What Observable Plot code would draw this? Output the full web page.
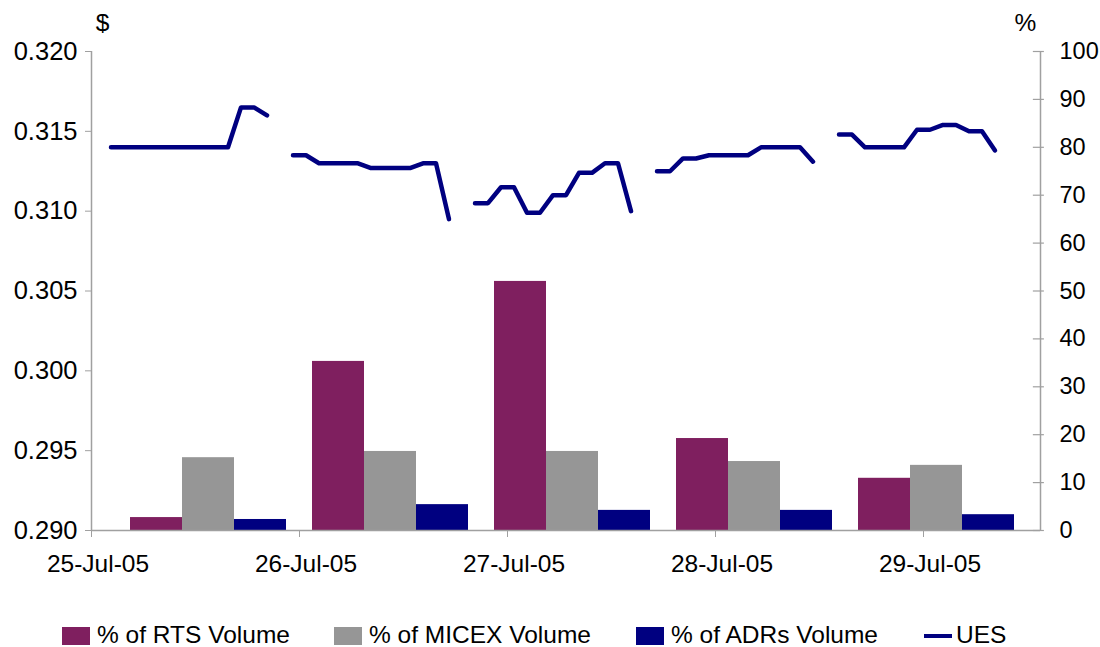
<!DOCTYPE html>
<html>
<head>
<meta charset="utf-8">
<script src="https://cdn.jsdelivr.net/npm/d3@7"></script>
<script src="https://cdn.jsdelivr.net/npm/@observablehq/plot@0.6"></script>
<style>
  html, body { margin: 0; padding: 0; background: #fff; }
  body { font-family: "Liberation Sans", Arial, sans-serif; }
  #wrap { position: relative; width: 1100px; height: 647px; }
  #legend { position: absolute; left: 0; top: 620px; width: 1100px; height: 27px; font-size: 24.5px; color: #000; }
  .sw { position: absolute; top: 7px; width: 28px; height: 18px; }
  .ln { position: absolute; top: 14px; width: 28px; height: 4px; }
  .lt { position: absolute; top: 4px; height: 22px; line-height: 22px; white-space: nowrap; }
</style>
</head>
<body>
<div id="wrap"><div id="chart"></div><div id="legend"></div></div>
<script>
// ---------------- data ----------------
const days = ["25-Jul-05", "26-Jul-05", "27-Jul-05", "28-Jul-05", "29-Jul-05"];
const seriesNames = ["% of RTS Volume", "% of MICEX Volume", "% of ADRs Volume"];
const rtsPct   = [2.7, 35.3, 52.0, 19.2, 10.9];
const micexPct = [15.2, 16.5, 16.5, 14.4, 13.6];
const adrPct   = [2.3, 5.4, 4.2, 4.2, 3.3];
// UES intraday quotes ($), 13 per day
const uesDay1 = [0.3140, 0.3140, 0.3140, 0.3140, 0.3140, 0.3140, 0.3140, 0.3140, 0.3140, 0.3140, 0.3165, 0.3165, 0.3160];
const uesDay2 = [0.3135, 0.3135, 0.3130, 0.3130, 0.3130, 0.3130, 0.3127, 0.3127, 0.3127, 0.3127, 0.3130, 0.3130, 0.3095];
const uesDay3 = [0.3105, 0.3105, 0.3115, 0.3115, 0.3099, 0.3099, 0.3110, 0.3110, 0.3124, 0.3124, 0.3130, 0.3130, 0.3100];
const uesDay4 = [0.3125, 0.3125, 0.3133, 0.3133, 0.3135, 0.3135, 0.3135, 0.3135, 0.3140, 0.3140, 0.3140, 0.3140, 0.3131];
const uesDay5 = [0.3148, 0.3148, 0.3140, 0.3140, 0.3140, 0.3140, 0.3151, 0.3151, 0.3154, 0.3154, 0.3150, 0.3150, 0.3138];
const leftTicks  = [0.290, 0.295, 0.300, 0.305, 0.310, 0.315, 0.320];
const rightTicks = [0, 10, 20, 30, 40, 50, 60, 70, 80, 90, 100];

// ---------------- layout / styles ----------------
const colors = ["#7F1F5F", "#969696", "#000080"];
const lineColor = "#000080";
const axisColor = "#a0a0a0";
const FONT = 24.5;
const slotsPerDay = 14;           // category slots per day on the time axis
const totalSlots = slotsPerDay * days.length + 3;
const yMin = 0.290, yMax = 0.320;
const pctToY = p => yMin + p * (yMax - yMin) / 100;
const yToPct = v => Math.round((v - yMin) * 100 / (yMax - yMin));
const barOffset = 2.5, barW = 4;

const uesAll = [uesDay1, uesDay2, uesDay3, uesDay4, uesDay5];
const ues = uesAll.flatMap((arr, d) => arr.map((v, k) => ({day: days[d], slot: 1 + d * slotsPerDay + k, price: v})));
const pctAll = [rtsPct, micexPct, adrPct];
const bars = pctAll.flatMap((arr, s) => arr.map((p, d) => ({
  series: seriesNames[s],
  x1: barOffset + d * slotsPerDay + s * barW,
  x2: barOffset + d * slotsPerDay + (s + 1) * barW,
  y: pctToY(p)
})));
const xLo = -0.5, xHi = totalSlots - 0.5;
const labelSlots = days.map((_, i) => i * 16);
const sepSlots = days.map((_, i) => i * 16 - 0.5);

const chart = Plot.plot({
  width: 1100,
  height: 620,
  marginLeft: 91,
  marginRight: 60,
  marginTop: 51,
  marginBottom: 90,
  style: {fontFamily: '"Liberation Sans", Arial, sans-serif', fontSize: FONT + "px", background: "#fff", color: "#000"},
  x: {domain: [xLo, xHi], axis: null},
  y: {domain: [yMin, yMax], axis: null},
  color: {domain: seriesNames, range: colors},
  marks: [
    Plot.rect(bars, {x1: "x1", x2: "x2", y1: yMin, y2: "y", fill: "series"}),
    // axis lines
    Plot.ruleY([yMin], {stroke: axisColor, strokeWidth: 1.5}),
    Plot.ruleX([xLo], {stroke: axisColor, strokeWidth: 1.5}),
    Plot.ruleX([xHi], {stroke: axisColor, strokeWidth: 1.5}),
    // left axis
    Plot.axisY({anchor: "left", ticks: leftTicks, tickFormat: d3.format(".3f"), tickSize: 6, tickPadding: 8,
      stroke: axisColor, fill: "#000", fontSize: 25.5, label: null}),
    // right axis (percent)
    Plot.ruleY(rightTicks.map(pctToY), {x1: xHi - 0.55, x2: xHi + 0.3, stroke: axisColor, strokeWidth: 1.2, clip: false}),
    Plot.axisY({anchor: "right", ticks: rightTicks.map(pctToY), tickFormat: d => String(yToPct(d)), tickSize: 0, tickPadding: 19,
      fill: "#000", fontSize: 23.5, label: null, textAnchor: "start"}),
    // bottom axis
    Plot.axisX({ticks: sepSlots, tickSize: 7, tickFormat: () => "", stroke: axisColor, label: null}),
    Plot.axisX({ticks: labelSlots, tickSize: 0, tickPadding: 24, tickFormat: s => days[s / 16], fill: "#000", fontSize: FONT, label: null}),
    // UES line
    Plot.line(ues, {x: "slot", y: "price", z: "day", stroke: lineColor, strokeWidth: 4.5, strokeLinejoin: "round", strokeLinecap: "round"}),
    // unit labels
    Plot.text(["$"], {frameAnchor: "top-left", dx: 11, dy: -28, textAnchor: "middle", lineAnchor: "middle", fontSize: FONT, fill: "#000"}),
    Plot.text(["%"], {frameAnchor: "top-right", dx: -15, dy: -28, textAnchor: "middle", lineAnchor: "middle", fontSize: FONT, fill: "#000"})
  ]
});
document.getElementById("chart").appendChild(chart);

// legend
const legend = document.getElementById("legend");
const legendItems = [
  {label: seriesNames[0], color: colors[0], kind: "sw", sx: 62, tx: 97},
  {label: seriesNames[1], color: colors[1], kind: "sw", sx: 334, tx: 369},
  {label: seriesNames[2], color: colors[2], kind: "sw", sx: 636, tx: 671},
  {label: "UES", color: lineColor, kind: "ln", sx: 924, tx: 956}
];
for (const it of legendItems) {
  const s = document.createElement("div");
  s.className = it.kind;
  s.style.left = it.sx + "px";
  s.style.background = it.color;
  legend.appendChild(s);
  const t = document.createElement("div");
  t.className = "lt";
  t.style.left = it.tx + "px";
  t.textContent = it.label;
  legend.appendChild(t);
}
</script>
</body>
</html>
